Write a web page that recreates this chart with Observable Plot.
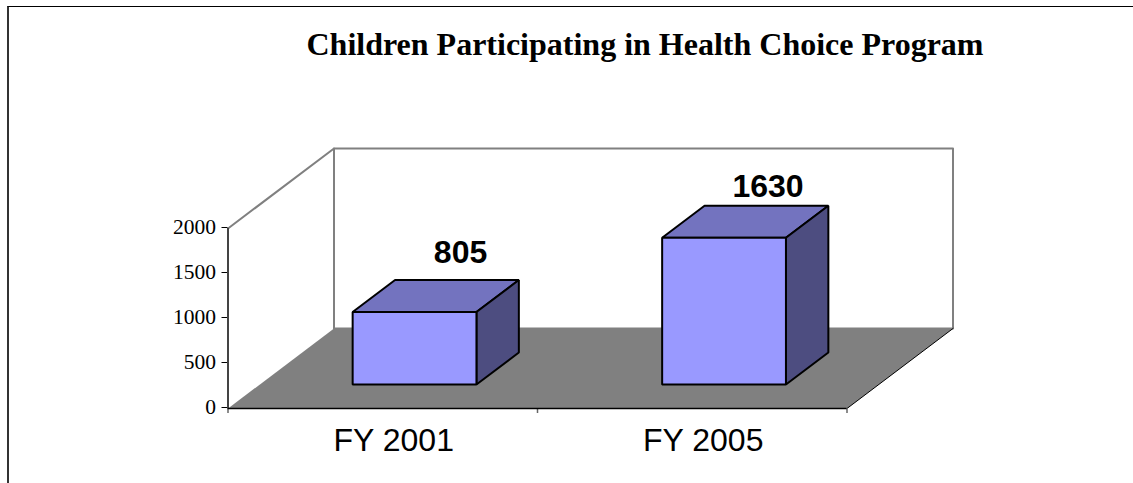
<!DOCTYPE html>
<html>
<head>
<meta charset="utf-8">
<script src="https://cdn.jsdelivr.net/npm/d3@7"></script>
<script src="https://cdn.jsdelivr.net/npm/@observablehq/plot@0.6"></script>
<style>
html,body{margin:0;padding:0;background:#fff;overflow:hidden}
#wrap{position:relative;width:1133px;height:483px;overflow:hidden}
#edge{position:absolute;left:7px;top:6px;right:-4px;bottom:-4px;border-top:1px solid #000;border-left:2px solid #333;box-sizing:border-box}
#title{position:absolute;left:0;top:24px;margin:0;width:1290px;text-align:center;font:bold 32px/40px "Liberation Serif",serif;color:#000}
svg{position:absolute;left:0;top:0;overflow:visible}
</style>
</head>
<body>
<div id="wrap"><div id="edge"></div><h1 id="title">Children Participating in Health Choice Program</h1></div>
<script>
const categories = ["FY 2001", "FY 2005"];
const values = [805, 1630];
const yTicks = [0, 500, 1000, 1500, 2000];

const yMax = 2000;
const nCat = categories.length;
// Oblique projection: depth 0 = front plane, depth 1 = back wall (in category and value units)
const depthX = 0.3425, depthY = 889;
const P = (x, y, d) => ({x: x + d * depthX, y: y + d * depthY});

const polys = [];
function poly(id, fill, stroke, sw, pts) {
  pts.forEach(p => polys.push({id, fill, stroke, sw, ...P(p[0], p[1], p[2])}));
}
poly("floor", "#808080", "none", 0, [[0,0,0],[nCat,0,0],[nCat,0,1],[0,0,1]]);
const wallLine = [
  [[0,yMax,0],[0,yMax,1],[0,0,1]],
  [[0,yMax,1],[nCat,yMax,1],[nCat,0,1],[0,0,1]]
];
const wallData = wallLine.flatMap((l,k) => l.map(p => ({k, ...P(p[0],p[1],p[2])})));
const sideEdge = [[nCat,0,0],[nCat,0,1]].map(p => P(p[0],p[1],p[2]));

// bars: 40% of a category wide, 40% of the floor deep
const d0 = 0.3, d1 = 0.7;
values.forEach((v,i) => {
  const a = i + 0.3, b = a + 0.4;
  poly("top"+i, "#7373bf", "#000", 2, [[a,v,d0],[b,v,d0],[b,v,d1],[a,v,d1]]);
  poly("side"+i, "#4d4d80", "#000", 2, [[b,0,d0],[b,v,d0],[b,v,d1],[b,0,d1]]);
  poly("front"+i, "#9999ff", "#000", 2, [[a,0,d0],[b,0,d0],[b,v,d0],[a,v,d0]]);
});
const ids = [...new Set(polys.map(p => p.id))];
const polyMark = id => {
  const pts = polys.filter(p => p.id === id);
  return Plot.line(pts, {x:"x", y:"y", curve:"linear-closed", fill: pts[0].fill, stroke: pts[0].stroke, strokeWidth: pts[0].sw, strokeLinejoin:"miter"});
};

const labels = values.map((v,i) => ({text: String(v), i, ...P(i + 0.5, v, d0)}));
const valueFont = {fontFamily:"Liberation Sans", fontWeight:"bold", fontSize:32, fill:"#000"};

const chart = Plot.plot({
  width: 1133, height: 483,
  marginLeft: 227.5, marginRight: 286.5, marginTop: 228, marginBottom: 75,
  style: {background: "transparent"},
  x: {domain: [0, nCat], axis: null},
  y: {domain: [0, yMax], axis: null},
  marks: [
    polyMark("floor"),
    Plot.line(wallData, {x:"x", y:"y", z:"k", stroke:"#808080", strokeWidth:2}),
    Plot.line(sideEdge, {x:"x", y:"y", stroke:"#000", strokeWidth:1}),
    Plot.axisX({ticks:d3.range(nCat+1), tickFormat:()=>"", tickSize:5, stroke:"#666", strokeWidth:1.5, tickPadding:0, label:null}),
    Plot.axisY({ticks:yTicks, tickSize:6, tickPadding:6, dy:-1, tickFormat:d=>String(d), fontSize:21.5, fontFamily:"Liberation Serif", fill:"#000", stroke:"#000", label:null}),
    Plot.ruleX([0], {y1:0, y2:yMax, stroke:"#444", strokeWidth:2}),
    Plot.ruleY([0], {x1:0, x2:nCat, stroke:"#000", strokeWidth:1.5}),
    Plot.text(categories, {x:(d,i)=>i+0.5, y:()=>0, dx:11, dy:32, text:d=>d, fontFamily:"Liberation Sans", fontSize:32, fill:"#000"}),
    ...ids.slice(1).map(polyMark),
    Plot.text(labels.filter(d=>d.i===0), {x:"x", y:"y", text:"text", dx:46, dy:-59, ...valueFont}),
    Plot.text(labels.filter(d=>d.i===1), {x:"x", y:"y", text:"text", dx:44, dy:-51, ...valueFont})
  ]
});
document.getElementById("wrap").appendChild(chart);
</script>
</body>
</html>
